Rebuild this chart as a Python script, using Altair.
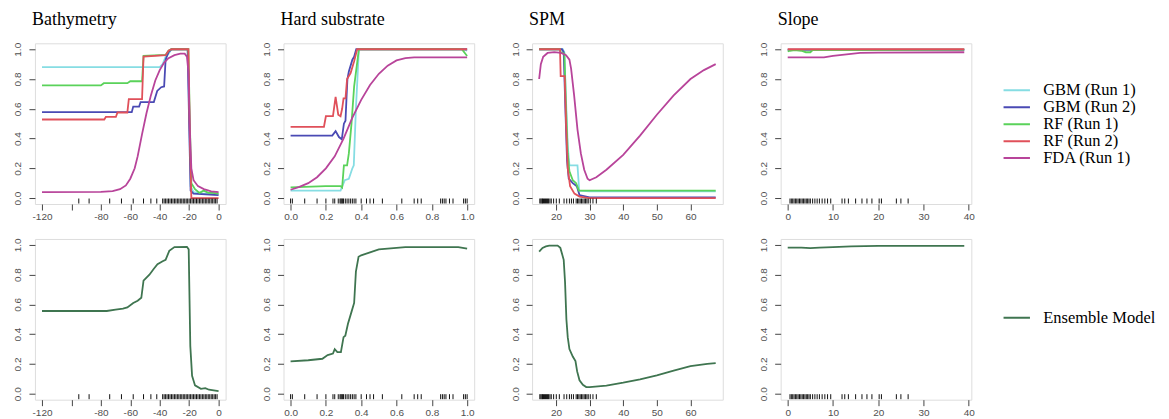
import altair as alt
import pandas as pd

# ---------------- data ----------------
VARIABLES = ["Bathymetry", "Hard substrate", "SPM", "Slope"]
MODELS = ["GBM (Run 1)", "GBM (Run 2)", "RF (Run 1)", "RF (Run 2)", "FDA (Run 1)"]
MODEL_COLORS = ["#86dde3", "#4a4ab4", "#5ad25a", "#e0505a", "#b8449a"]
ENSEMBLE = ["Ensemble Model"]
ENSEMBLE_COLORS = ["#3f7550"]

# Bathymetry
BATHY_GBM1 = [(-120, 0.88), (-40, 0.88), (-38, 0.9), (-36, 0.95), (-34, 0.97), (-32, 1.0), (-21, 1.0),
              (-20, 0.6), (-19, 0.08), (-17, 0.04), (-12, 0.03), (-8, 0.03), (0, 0.03)]
BATHY_GBM2 = [(-120, 0.577), (-59, 0.577), (-58, 0.615), (-54, 0.615), (-53, 0.645), (-44, 0.645),
              (-41.7, 0.72), (-39, 0.745), (-37, 0.75), (-36, 0.93), (-34, 0.98), (-32, 1.0), (-21, 1.0),
              (-20, 0.5), (-19, 0.05), (-17, 0.03), (0, 0.02)]
BATHY_RF1 = [(-120, 0.757), (-80, 0.757), (-78, 0.772), (-62, 0.772), (-60, 0.785), (-52, 0.785),
             (-51, 0.955), (-36, 0.962), (-34, 0.99), (-32, 1.0), (-20.5, 1.0), (-19.5, 0.5), (-18.5, 0.1),
             (-16, 0.06), (-13, 0.035), (-10, 0.05), (-7, 0.035), (-4, 0.035), (0, 0.03)]
BATHY_RF2 = [(-120, 0.528), (-77.7, 0.528), (-76.6, 0.545), (-69.8, 0.545), (-68.7, 0.575), (-62, 0.575),
             (-61, 0.665), (-52, 0.665), (-51, 0.95), (-36, 0.96), (-34, 0.99), (-32, 1.0), (-20.5, 1.0),
             (-19.5, 0.4), (-18.5, 0.0), (0, 0.0)]
BATHY_FDA = [(-120, 0.04), (-80, 0.041), (-72, 0.046), (-67, 0.06), (-63, 0.085), (-60, 0.13), (-57, 0.2),
             (-55, 0.28), (-52, 0.43), (-49, 0.57), (-46, 0.69), (-43, 0.79), (-40, 0.86), (-37, 0.91),
             (-34, 0.94), (-30, 0.96), (-26, 0.97), (-23, 0.97), (-21.5, 0.95), (-20.5, 0.85), (-19.5, 0.45),
             (-18.5, 0.2), (-17, 0.12), (-14, 0.08), (-10, 0.06), (-5, 0.045), (0, 0.04)]
BATHY_ENS = [(-120, 0.556), (-76, 0.556), (-70, 0.565), (-65, 0.572), (-62, 0.58), (-58, 0.61), (-55, 0.625),
             (-52.5, 0.645), (-51, 0.76), (-47, 0.8), (-44, 0.84), (-41.5, 0.87), (-38, 0.89), (-36, 0.9),
             (-33.5, 0.96), (-30, 0.985), (-21.5, 0.987), (-20.3, 0.97), (-19.2, 0.32), (-18, 0.12),
             (-16, 0.056), (-12, 0.033), (-9, 0.038), (-6.5, 0.027), (0, 0.018)]
BATHY_RUG = [-95, -88, -74, -66, -58, -51, -46, -42, -38, -37, -36, -35, -34, -33, -32, -31, -30, -29,
             -28, -27, -26, -25, -24, -23, -22, -21, -20, -19, -18, -17, -16, -15, -14, -13, -12, -11,
             -10, -9, -8, -7, -6, -5, -4, -3, -2, -1]

# Hard substrate
HARD_GBM1 = [(0, 0.05), (0.283, 0.05), (0.307, 0.12), (0.33, 0.13), (0.35, 0.2), (0.358, 0.22),
             (0.37, 0.6), (0.387, 1.0), (0.97, 1.0), (1.0, 0.99)]
HARD_GBM2 = [(0, 0.42), (0.236, 0.42), (0.255, 0.45), (0.274, 0.41), (0.29, 0.395), (0.302, 0.5),
             (0.311, 0.52), (0.317, 0.68), (0.322, 0.8), (0.33, 0.85), (0.35, 0.93), (0.36, 0.95),
             (0.372, 1.0), (1.0, 1.0)]
HARD_RF1 = [(0, 0.072), (0.198, 0.08), (0.283, 0.08), (0.292, 0.07), (0.302, 0.22), (0.32, 0.22),
            (0.33, 0.3), (0.345, 0.5), (0.36, 0.75), (0.387, 1.0), (0.97, 1.0), (1.0, 0.955)]
HARD_RF2 = [(0, 0.479), (0.189, 0.479), (0.2, 0.55), (0.24, 0.55), (0.255, 0.68), (0.27, 0.56),
            (0.283, 0.55), (0.292, 0.6), (0.3, 0.67), (0.311, 0.67), (0.32, 0.8), (0.34, 0.84),
            (0.36, 0.92), (0.377, 1.0), (1.0, 1.0)]
HARD_FDA = [(0, 0.056), (0.05, 0.075), (0.1, 0.1), (0.15, 0.14), (0.2, 0.2), (0.25, 0.28), (0.3, 0.4),
            (0.35, 0.54), (0.4, 0.66), (0.45, 0.76), (0.5, 0.835), (0.55, 0.89), (0.6, 0.925),
            (0.65, 0.94), (0.7, 0.945), (1.0, 0.945)]
HARD_ENS = [(0, 0.217), (0.1, 0.225), (0.18, 0.235), (0.21, 0.26), (0.24, 0.27), (0.25, 0.3),
            (0.265, 0.28), (0.285, 0.28), (0.3, 0.38), (0.31, 0.39), (0.325, 0.47), (0.345, 0.55),
            (0.36, 0.61), (0.37, 0.82), (0.385, 0.92), (0.4, 0.93), (0.45, 0.95), (0.5, 0.97),
            (0.6, 0.98), (0.65, 0.985), (0.95, 0.985), (1.0, 0.975)]
HARD_RUG = [0.0, 0.01, 0.08, 0.15, 0.2, 0.24, 0.25, 0.27, 0.28, 0.285, 0.29, 0.295, 0.3, 0.31, 0.32,
            0.33, 0.34, 0.35, 0.36, 0.37, 0.4, 0.43, 0.45, 0.47, 0.52, 0.63, 0.7, 0.72, 0.74, 0.85,
            0.86, 0.87, 0.88, 0.9, 0.92, 0.98, 0.99, 1.0]

# SPM
SPM_GBM1 = [(15, 1.0), (22, 1.0), (22.5, 0.98), (23, 0.65), (23.5, 0.35), (24, 0.22), (26.4, 0.22),
            (26.9, 0.05), (30, 0.045), (67.5, 0.045)]
SPM_GBM2 = [(15, 1.0), (21.8, 1.0), (22.3, 0.98), (22.8, 0.6), (23.3, 0.25), (23.8, 0.13), (25, 0.1),
            (26.2, 0.08), (27, 0.02), (30, 0.005), (67.5, 0.005)]
SPM_RF1 = [(15, 1.0), (21.2, 1.0), (21.4, 0.98), (22.5, 0.97), (23, 0.6), (23.5, 0.3), (24, 0.18),
           (25, 0.12), (26, 0.1), (26.8, 0.05), (67.5, 0.05)]
SPM_RF2 = [(15, 1.0), (21.2, 1.0), (21.4, 0.82), (22.6, 0.82), (23, 0.5), (23.5, 0.2), (24.2, 0.08),
           (25.5, 0.03), (27, 0.01), (30, 0.0), (67.5, 0.0)]
SPM_FDA = [(15, 0.8), (15.5, 0.9), (16.2, 0.95), (17.5, 0.975), (19.5, 0.98), (21.5, 0.975), (23, 0.96),
           (24, 0.93), (24.5, 0.87), (25.4, 0.69), (26.4, 0.46), (27.4, 0.3), (28.4, 0.19), (29.4, 0.13),
           (30, 0.12), (32, 0.14), (35, 0.19), (40, 0.29), (45, 0.42), (50, 0.56), (55, 0.69), (60, 0.8),
           (64, 0.86), (67.5, 0.9)]
SPM_ENS = [(15, 0.955), (16, 0.98), (17, 0.99), (18, 0.995), (20.5, 0.995), (21.3, 0.98), (21.8, 0.94),
           (22.3, 0.9), (22.7, 0.75), (23.1, 0.5), (23.5, 0.38), (24, 0.3), (25, 0.25), (25.8, 0.22),
           (26.3, 0.15), (27, 0.09), (28, 0.06), (29, 0.045), (30, 0.045), (35, 0.055), (40, 0.074),
           (45, 0.097), (50, 0.123), (55, 0.155), (60, 0.185), (65, 0.2), (67.5, 0.205)]
SPM_RUG = [15.2, 15.5, 15.8, 16.0, 16.3, 16.6, 16.9, 17.2, 17.5, 17.8, 18.2, 18.6, 19.3, 20.1, 21.0,
           22.4, 23.2, 24.0, 24.6, 25.2, 26.0, 26.4, 26.8, 27.2, 27.6, 28.0, 28.4, 28.8, 29.2, 29.6,
           30.2, 31.0, 32.0]

# Slope
SLOPE_GBM1 = [(0, 0.995), (39, 0.995)]
SLOPE_GBM2 = [(0, 0.997), (39, 0.997)]
SLOPE_RF1 = [(0, 0.985), (0.5, 0.99), (1.5, 0.995), (3, 0.99), (4, 0.98), (5, 0.98), (5.5, 0.995),
             (13, 0.995), (39, 0.998)]
SLOPE_RF2 = [(0, 1.0), (39, 1.0)]
SLOPE_FDA = [(0, 0.945), (8, 0.945), (10, 0.955), (13, 0.965), (16, 0.975), (20, 0.978), (39, 0.98)]
SLOPE_ENS = [(0, 0.982), (3, 0.982), (5, 0.978), (7, 0.982), (10, 0.985), (14, 0.99), (20, 0.993),
             (39, 0.994)]
SLOPE_RUG = [0.5, 0.8, 1.1, 1.4, 1.7, 2.0, 2.3, 2.6, 2.9, 3.2, 3.5, 3.8, 4.1, 4.4, 4.7, 5.0, 5.5, 6.0,
             6.5, 7.0, 7.6, 8.2, 8.8, 9.5, 12.0, 12.6, 13.4, 15.0, 16.4, 17.5, 18.6, 20.2, 20.7, 24.0,
             25.0, 26.6]

X_TICKS = {
    "Bathymetry": [-120, -100, -80, -60, -40, -20, 0],
    "Hard substrate": [0.0, 0.2, 0.4, 0.6, 0.8, 1.0],
    "SPM": [20, 30, 40, 50, 60],
    "Slope": [0, 10, 20, 30, 40],
}
X_RANGE = {"Bathymetry": (-120, 0), "Hard substrate": (0, 1), "SPM": (15, 67.5), "Slope": (0, 39)}
Y_TICKS = [0.0, 0.2, 0.4, 0.6, 0.8, 1.0]

SERIES = {
    "Bathymetry": [BATHY_GBM1, BATHY_GBM2, BATHY_RF1, BATHY_RF2, BATHY_FDA],
    "Hard substrate": [HARD_GBM1, HARD_GBM2, HARD_RF1, HARD_RF2, HARD_FDA],
    "SPM": [SPM_GBM1, SPM_GBM2, SPM_RF1, SPM_RF2, SPM_FDA],
    "Slope": [SLOPE_GBM1, SLOPE_GBM2, SLOPE_RF1, SLOPE_RF2, SLOPE_FDA],
}
ENS = {"Bathymetry": BATHY_ENS, "Hard substrate": HARD_ENS, "SPM": SPM_ENS, "Slope": SLOPE_ENS}
RUGS = {"Bathymetry": BATHY_RUG, "Hard substrate": HARD_RUG, "SPM": SPM_RUG, "Slope": SLOPE_RUG}

# ---------------- layout / style ----------------
W, H = 191, 161
SERIF = "Liberation Serif"
SANS = "Liberation Sans"
LABEL_COLOR = "#505050"
X_FORMAT = {"Bathymetry": "d", "Hard substrate": ".1f", "SPM": "d", "Slope": "d"}


def frame(series_list, names):
    rows = []
    for name, pts in zip(names, series_list):
        for i, (x, y) in enumerate(pts):
            rows.append({"model": name, "i": i, "x": x, "y": y})
    return pd.DataFrame(rows)


def make_legend(x, y):
    return alt.Legend(orient="none", legendX=x, legendY=y, title=None, symbolType="stroke", symbolSize=700,
                      symbolStrokeWidth=2, labelFont=SERIF, labelFontSize=16.5, labelColor="black",
                      labelOffset=12, clipHeight=16, rowPadding=0, padding=0)


def panel(var, series_list, names, colors, legend, title):
    lo, hi = X_RANGE[var]
    pad = (hi - lo) * 0.04
    xscale = alt.Scale(domain=[lo - pad, hi + pad], nice=False, zero=False)
    yscale = alt.Scale(domain=[-0.04, 1.04], nice=False, zero=False)
    label_expr = "replace(datum.label, '\u2212', '-')"
    if var == "Bathymetry":
        label_expr = "datum.value == -100 ? '' : " + label_expr
    xaxis = alt.Axis(values=X_TICKS[var], format=X_FORMAT[var], labelExpr=label_expr, domain=False,
                     grid=False, tickSize=6, tickColor="#444", labelPadding=2, labelFont=SANS,
                     labelFontSize=10, labelColor=LABEL_COLOR, labelFlush=False, labelOverlap=False,
                     title=None)
    yaxis = alt.Axis(values=Y_TICKS, format=".1f", domain=False, grid=False, tickSize=6, tickColor="#444",
                     labelAngle=270, labelAlign="center", labelBaseline="bottom", labelPadding=6,
                     labelFont=SANS, labelFontSize=10, labelColor=LABEL_COLOR, labelFlush=False,
                     labelOverlap=False, title=None)
    color_kwargs = dict(scale=alt.Scale(domain=names, range=colors), sort=names)
    if legend is None:
        color = alt.Color("model:N", legend=None, **color_kwargs)
    else:
        color = alt.Color("model:N", legend=legend, **color_kwargs)
    lines = alt.Chart(frame(series_list, names)).mark_line(strokeWidth=1.8, clip=True).encode(
        x=alt.X("x:Q", scale=xscale, axis=xaxis),
        y=alt.Y("y:Q", scale=yscale, axis=yaxis),
        color=color,
        order=alt.Order("i:Q"),
    )
    rug = alt.Chart(pd.DataFrame({"x": RUGS[var]})).mark_rule(color="#111", strokeWidth=1).encode(
        x=alt.X("x:Q", scale=xscale, axis=xaxis),
        y=alt.value(H - 0.5),
        y2=alt.value(H - 5.5),
    )
    props = {"width": W, "height": H}
    if title:
        props["title"] = alt.TitleParams(var, anchor="start", frame="group", font=SERIF, fontSize=18,
                                         fontWeight="normal", color="black", baseline="alphabetic",
                                         offset=0, dx=-3, dy=1)
    return alt.layer(lines, rug).properties(**props)


panels = []
for k, v in enumerate(VARIABLES):
    lg = make_legend(222, 39) if k == 3 else None
    panels.append(panel(v, SERIES[v], MODELS, MODEL_COLORS, lg, True))
for k, v in enumerate(VARIABLES):
    lg = make_legend(222, 71) if k == 3 else None
    panels.append(panel(v, [ENS[v]], ENSEMBLE, ENSEMBLE_COLORS, lg, False))

chart = alt.concat(*panels, columns=4, spacing={"row": 35, "column": 58}, bounds="flush").resolve_scale(
    color="independent"
).properties(
    padding={"left": 4, "top": 2, "right": 4, "bottom": 4}
).configure_view(stroke="#444", strokeWidth=1).configure(background="white")

chart.save("out.html", embed_options={"renderer": "svg", "actions": False})
